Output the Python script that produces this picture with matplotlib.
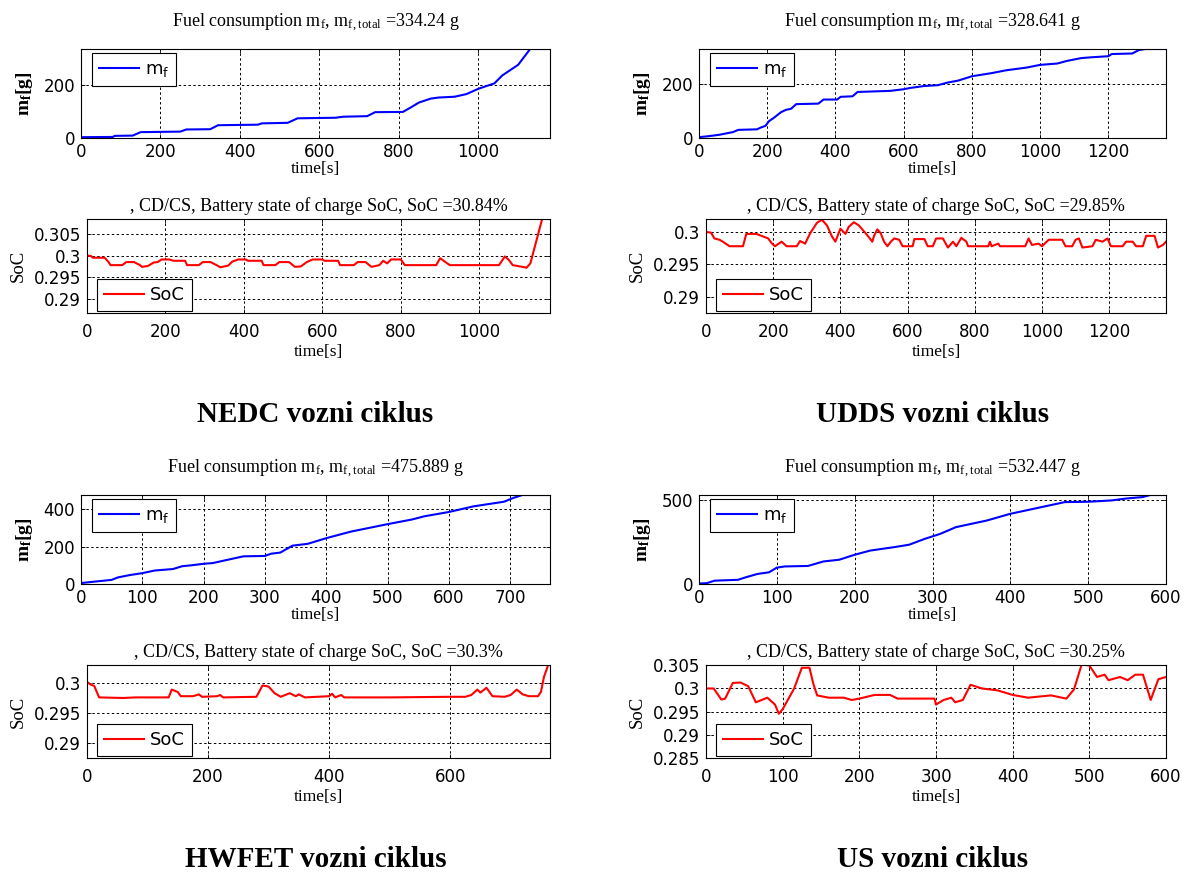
import matplotlib
matplotlib.use("Agg")
import matplotlib.pyplot as plt

# ---------------- data ----------------
# NEDC
nedc_fuel_t = [0, 80, 85, 130, 150, 250, 265, 325, 345, 445, 455, 520, 545, 640, 660, 720, 740,
               810, 830, 850, 880, 900, 940, 970, 1000, 1040, 1060, 1080, 1100, 1130, 1180]
nedc_fuel_m = [3, 4, 8, 9, 22, 24, 32, 33, 48, 50, 55, 57, 74, 76, 80, 82, 97,
               98, 115, 133, 148, 152, 155, 165, 185, 205, 235, 255, 275, 334.24, 334.24]
nedc_soc_t = [0, 10, 15, 45, 55, 60, 90, 100, 120, 135, 140, 155, 170, 180, 190, 210, 220, 250,
              255, 285, 295, 315, 330, 340, 360, 370, 385, 405, 410, 445, 450, 480, 490, 515,
              530, 545, 560, 575, 600, 605, 640, 645, 680, 690, 710, 725, 745, 755, 765, 775,
              800, 810, 890, 900, 915, 925, 1050, 1065, 1075, 1085, 1110, 1120, 1130, 1150,
              1160, 1180]
nedc_soc_v = [0.3000, 0.2999, 0.2995, 0.2995, 0.2985, 0.2978, 0.2978, 0.2985, 0.2985, 0.2978,
              0.2974, 0.2976, 0.2984, 0.2985, 0.2991, 0.2991, 0.2988, 0.2988, 0.2978, 0.2978,
              0.2985, 0.2985, 0.2978, 0.2973, 0.2977, 0.2986, 0.2991, 0.2991, 0.2988, 0.2988,
              0.2978, 0.2978, 0.2985, 0.2985, 0.2974, 0.2975, 0.2985, 0.2991, 0.2991, 0.2988,
              0.2988, 0.2978, 0.2978, 0.2985, 0.2985, 0.2974, 0.2978, 0.2988, 0.2982, 0.2991,
              0.2991, 0.2978, 0.2978, 0.2994, 0.2984, 0.2978, 0.2978, 0.2998, 0.2990, 0.2978,
              0.2974, 0.2972, 0.2982, 0.3050, 0.3084, 0.3084]

# UDDS
udds_fuel_t = [0, 30, 60, 100, 115, 170, 180, 195, 205, 220, 240, 255, 270, 285, 350, 365, 405,
               415, 450, 465, 560, 600, 620, 660, 700, 730, 760, 800, 820, 860, 900, 960, 1000,
               1050, 1080, 1120, 1150, 1200, 1210, 1270, 1290, 1310, 1369]
udds_fuel_m = [3, 7, 12, 22, 30, 32, 38, 45, 62, 75, 95, 104, 108, 125, 127, 142, 142,
               152, 154, 170, 174, 180, 185, 192, 195, 205, 212, 228, 232, 240, 250, 260, 270,
               275, 285, 295, 298, 302, 310, 312, 325, 328.641, 328.641]
udds_soc_t = [0, 15, 25, 40, 50, 70, 110, 120, 150, 170, 185, 195, 205, 225, 240, 270, 280, 295,
              310, 330, 345, 360, 375, 385, 400, 415, 425, 440, 455, 480, 495, 500, 510, 520,
              530, 540, 550, 560, 575, 585, 615, 620, 650, 660, 675, 685, 705, 720, 735, 745,
              760, 775, 780, 840, 845, 850, 870, 875, 950, 960, 970, 990, 1000, 1020, 1060,
              1070, 1090, 1100, 1110, 1120, 1150, 1160, 1180, 1195, 1205, 1240, 1250, 1270,
              1280, 1300, 1310, 1335, 1345, 1360, 1369]
udds_soc_v = [0.3000, 0.2999, 0.2990, 0.2988, 0.2985, 0.2978, 0.2978, 0.2997, 0.2997, 0.2993,
              0.2990, 0.2983, 0.2978, 0.2985, 0.2978, 0.2978, 0.2986, 0.2982, 0.2998, 0.3014,
              0.3019, 0.3010, 0.2993, 0.2985, 0.3005, 0.2997, 0.3008, 0.3015, 0.3010, 0.2995,
              0.2985, 0.2994, 0.3004, 0.2998, 0.2985, 0.2978, 0.2985, 0.2990, 0.2988, 0.2978,
              0.2978, 0.2989, 0.2989, 0.2978, 0.2978, 0.2990, 0.2990, 0.2976, 0.2985, 0.2978,
              0.2991, 0.2985, 0.2978, 0.2978, 0.2985, 0.2978, 0.2982, 0.2978, 0.2978, 0.2990,
              0.2980, 0.2982, 0.2978, 0.2988, 0.2988, 0.2978, 0.2978, 0.2988, 0.2990, 0.2976,
              0.2978, 0.2988, 0.2985, 0.2990, 0.2978, 0.2978, 0.2985, 0.2985, 0.2978, 0.2978,
              0.2994, 0.2994, 0.2976, 0.2980, 0.2985]

# HWFET
hwfet_fuel_t = [0, 20, 50, 60, 80, 100, 120, 150, 165, 180, 200, 215, 240, 265, 300, 310, 325,
                345, 370, 400, 440, 470, 500, 540, 560, 600, 640, 690, 705, 720, 765]
hwfet_fuel_m = [5, 12, 22, 35, 48, 58, 72, 80, 95, 100, 108, 112, 130, 148, 150, 162, 168,
                205, 215, 245, 280, 300, 320, 345, 362, 385, 415, 440, 460, 475.889, 475.889]
hwfet_soc_t = [0, 5, 12, 20, 60, 80, 135, 140, 150, 155, 175, 185, 190, 215, 220, 225, 280, 290,
               300, 310, 320, 335, 345, 350, 360, 400, 405, 410, 420, 425, 500, 600, 625, 635,
               645, 650, 660, 670, 690, 700, 710, 720, 730, 745, 750, 755, 762, 765]
hwfet_soc_v = [0.3002, 0.2998, 0.2995, 0.2976, 0.2975, 0.2976, 0.2976, 0.2989, 0.2985, 0.2978,
               0.2978, 0.2981, 0.2977, 0.2978, 0.2980, 0.2976, 0.2977, 0.2996, 0.2994, 0.2983,
               0.2977, 0.2983, 0.2978, 0.2981, 0.2976, 0.2978, 0.2982, 0.2976, 0.2980, 0.2976,
               0.2976, 0.2977, 0.2977, 0.2980, 0.2989, 0.2984, 0.2992, 0.2978, 0.2977, 0.2980,
               0.2989, 0.2981, 0.2978, 0.2978, 0.2985, 0.3010, 0.3030, 0.3030]

# US06
us_fuel_t = [0, 10, 20, 50, 60, 75, 90, 100, 110, 140, 160, 180, 200, 220, 250, 270, 290, 310,
             330, 350, 370, 400, 430, 470, 500, 530, 550, 570, 580, 600]
us_fuel_m = [3, 5, 20, 25, 40, 60, 70, 98, 105, 108, 135, 145, 175, 200, 220, 235, 270, 300,
             340, 360, 380, 420, 450, 490, 492, 500, 512, 520, 532.447, 532.447]
us_soc_t = [0, 10, 20, 25, 35, 45, 55, 65, 80, 90, 95, 100, 115, 125, 135, 140, 145, 160, 180,
            190, 200, 220, 240, 250, 290, 298, 300, 310, 320, 325, 335, 345, 360, 380, 400, 420,
            450, 470, 480, 490, 500, 510, 520, 525, 540, 550, 560, 570, 580, 590, 600]
us_soc_v = [0.3000, 0.3000, 0.2976, 0.2978, 0.3012, 0.3013, 0.3005, 0.2970, 0.2980, 0.2965,
            0.2945, 0.2955, 0.3000, 0.3045, 0.3045, 0.3010, 0.2985, 0.2980, 0.2980, 0.2975,
            0.2978, 0.2986, 0.2986, 0.2978, 0.2978, 0.2978, 0.2965, 0.2975, 0.2980, 0.2970,
            0.2975, 0.3008, 0.3000, 0.2996, 0.2986, 0.2980, 0.2985, 0.2978, 0.2998, 0.3052,
            0.3050, 0.3025, 0.3030, 0.3018, 0.3025, 0.3018, 0.3030, 0.3030, 0.2975, 0.3020,
            0.3025]

cycle_names = ["NEDC vozni ciklus", "UDDS vozni ciklus", "HWFET vozni ciklus", "US vozni ciklus"]
fuel_totals = ["334.24", "328.641", "475.889", "532.447"]
soc_finals = ["30.84", "29.85", "30.3", "30.25"]

# ---------------- styling ----------------
W, H = 1185, 872
SERIF = "Liberation Serif"
SANS = "DejaVu Sans"
plt.rcParams["font.family"] = [SANS]

fig = plt.figure(figsize=(W / 100, H / 100), dpi=100)
fig.patch.set_facecolor("white")


def add_px_axes(left, top, right, bottom):
    return fig.add_axes([left / W, 1 - bottom / H, (right - left) / W, (bottom - top) / H])


def style_axes(ax, xlim, ylim, xticks, yticks, xpad):
    ax.set_xlim(*xlim)
    ax.set_ylim(*ylim)
    ax.set_xticks(list(xticks))
    ax.set_yticks(yticks)
    ax.set_yticklabels(["%g" % v for v in yticks])
    ax.grid(True, color="black", linestyle=(0, (2.5, 2.5)), linewidth=0.7)
    ax.tick_params(direction="in", length=3, width=0.6, labelsize=12,
                   top=True, right=True)
    ax.tick_params(axis="x", pad=xpad)
    ax.tick_params(axis="y", pad=4.2)
    for s in ax.spines.values():
        s.set_linewidth(0.8)
        s.set_color("black")


def legend(ax, loc, x_px, y_px):
    leg = ax.legend(loc=loc, bbox_to_anchor=(x_px / W, 1 - y_px / H),
                    bbox_transform=fig.transFigure, frameon=True, fancybox=False,
                    framealpha=1, edgecolor="black", prop={"family": SANS, "size": 13},
                    handlelength=2.2, borderpad=0.38, handletextpad=0.35,
                    borderaxespad=0.0)
    leg.get_frame().set_linewidth(0.8)


def set_ylabel_px(ax, left, right, x_px):
    ax.yaxis.set_label_coords((x_px - left) / (right - left), 0.5)


def set_xlabel_px(ax, top, bottom, y_px):
    ax.xaxis.set_label_coords(0.5, -(y_px - bottom) / (bottom - top))


panels = [
    dict(ft=nedc_fuel_t, fm=nedc_fuel_m, st=nedc_soc_t, sv=nedc_soc_v, xmax=1180,
         fxt=range(0, 1001, 200), fyl=(0, 334.24), fyt=[0, 200],
         sxt=range(0, 1001, 200), syl=(0.2868, 0.3084), syt=[0.29, 0.295, 0.3, 0.305]),
    dict(ft=udds_fuel_t, fm=udds_fuel_m, st=udds_soc_t, sv=udds_soc_v, xmax=1369,
         fxt=range(0, 1201, 200), fyl=(0, 328.641), fyt=[0, 200],
         sxt=range(0, 1201, 200), syl=(0.2875, 0.3020), syt=[0.29, 0.295, 0.3]),
    dict(ft=hwfet_fuel_t, fm=hwfet_fuel_m, st=hwfet_soc_t, sv=hwfet_soc_v, xmax=765,
         fxt=range(0, 701, 100), fyl=(0, 475.889), fyt=[0, 200, 400],
         sxt=range(0, 601, 200), syl=(0.2875, 0.3030), syt=[0.29, 0.295, 0.3]),
    dict(ft=us_fuel_t, fm=us_fuel_m, st=us_soc_t, sv=us_soc_v, xmax=600,
         fxt=range(0, 601, 100), fyl=(0, 532.447), fyt=[0, 500],
         sxt=range(0, 601, 100), syl=(0.2849, 0.3051), syt=[0.285, 0.29, 0.295, 0.3, 0.305]),
]

# pixel layout: (fuel left, right edge, soc left) per column and
# (fuel top, fuel bottom, soc top, soc bottom, caption y) per row
col_x = [(81, 550, 87), (699, 1166, 706)]
row_y = [(49, 138, 219, 313, 414), (495, 584, 665, 758, 859)]

for i, p in enumerate(panels):
    c, r = i % 2, i // 2
    fl, right, sl = col_x[c]
    ftop, fbot, stop, sbot, name_y = row_y[r]

    # cumulative fuel consumption
    ax1 = add_px_axes(fl, ftop, right, fbot)
    ax1.plot(p["ft"], p["fm"], color="#0000ff", linewidth=1.5, label=r"$\mathregular{m_f}$")
    style_axes(ax1, (0, p["xmax"]), p["fyl"], p["fxt"], p["fyt"], xpad=3.6)
    ax1.set_title(r"Fuel consumption $\mathregular{m_{f}}$, $\mathregular{m_{f,total}}$ ="
                  + fuel_totals[i] + " g", fontfamily=SERIF, fontsize=13, pad=16)
    ax1.set_ylabel(r"$\mathregular{m_f[g]}$", fontfamily=SERIF, fontsize=14,
                   fontweight="bold")
    set_ylabel_px(ax1, fl, right, fl - 46)
    ax1.set_xlabel("time[s]", fontfamily=SERIF, fontsize=12.5)
    set_xlabel_px(ax1, ftop, fbot, fbot + 23)
    legend(ax1, "upper left", fl + 11, ftop + 4)

    # battery state of charge
    ax2 = add_px_axes(sl, stop, right, sbot)
    ax2.plot(p["st"], p["sv"], color="#ff0000", linewidth=1.5, label="SoC")
    style_axes(ax2, (0, p["xmax"]), p["syl"], p["sxt"], p["syt"], xpad=7)
    ax2.set_title(", CD/CS, Battery state of charge SoC, SoC =" + soc_finals[i] + "%",
                  fontfamily=SERIF, fontsize=13, pad=6)
    ax2.set_ylabel("SoC", fontfamily=SERIF, fontsize=13.5)
    set_ylabel_px(ax2, sl, right, sl - 60)
    ax2.set_xlabel("time[s]", fontfamily=SERIF, fontsize=12.5)
    set_xlabel_px(ax2, stop, sbot, sbot + 31)
    legend(ax2, "lower left", sl + 10, sbot - 2)

    cx = (fl + right) / 2
    fig.text(cx / W, 1 - name_y / H, cycle_names[i], ha="center", va="center",
             fontfamily=SERIF, fontsize=21, fontweight="bold")

fig.savefig("out.png", dpi=100)
